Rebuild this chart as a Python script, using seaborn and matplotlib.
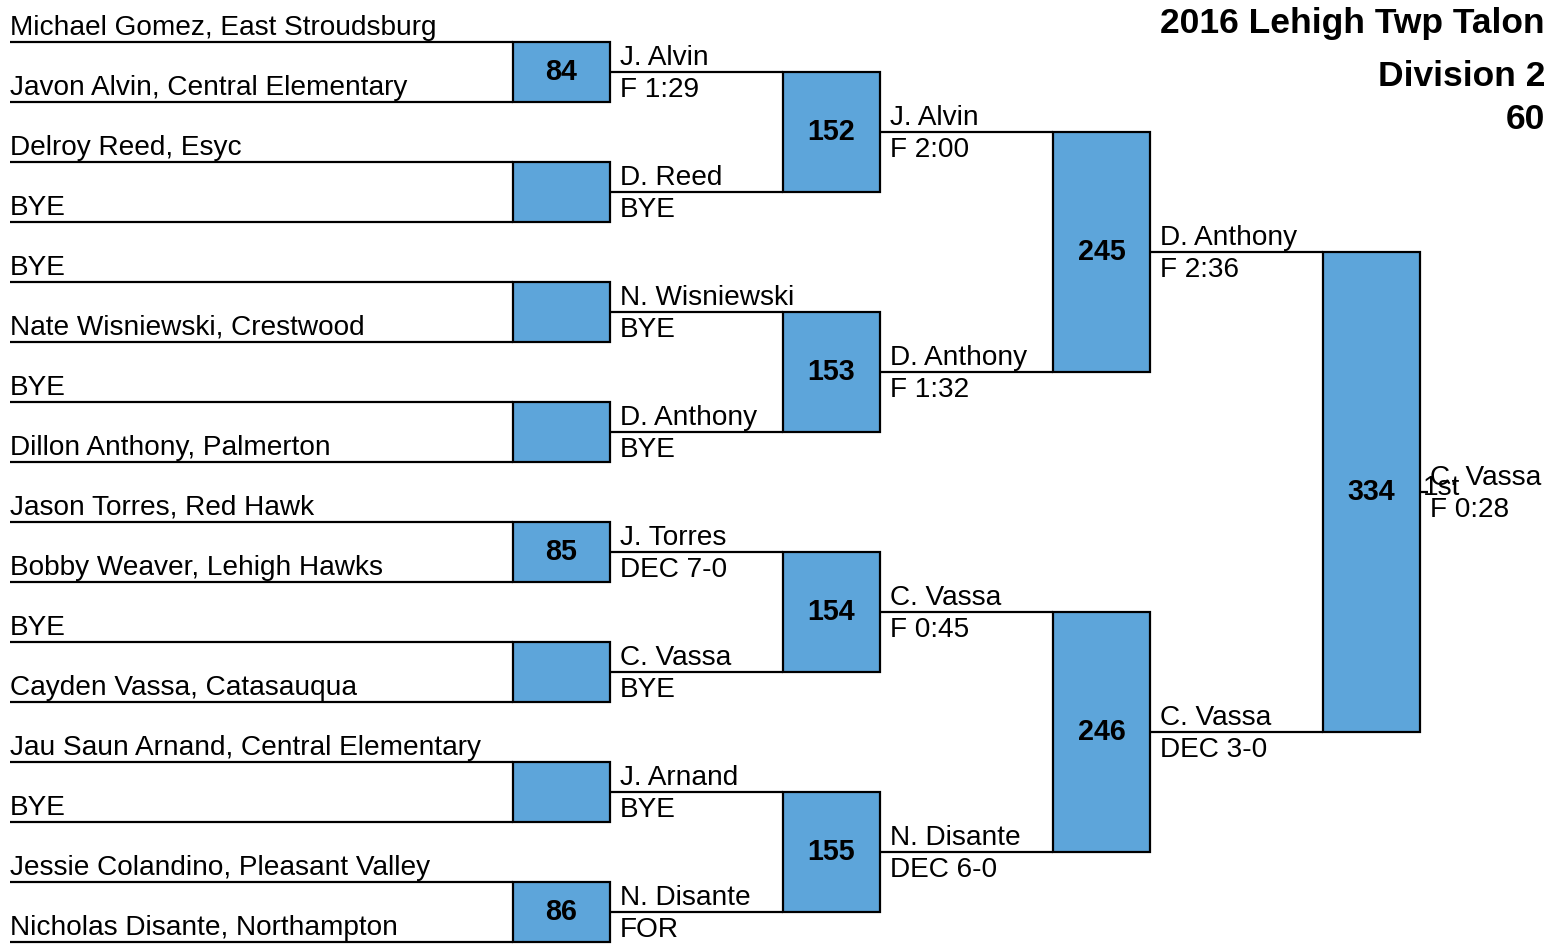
import numpy as np
import matplotlib
matplotlib.use("Agg")
import matplotlib.pyplot as plt
import seaborn as sns

sns.set_theme(style="white")
plt.rcParams['font.family'] = ['Liberation Sans', 'DejaVu Sans']
plt.rcParams['text.color'] = 'black'

# Dados do chaveamento
titulo = ["2016 Lehigh Twp Talon", "Division 2", "60"]

atletas = [
    "Michael Gomez, East Stroudsburg", "Javon Alvin, Central Elementary",
    "Delroy Reed, Esyc", "BYE",
    "BYE", "Nate Wisniewski, Crestwood",
    "BYE", "Dillon Anthony, Palmerton",
    "Jason Torres, Red Hawk", "Bobby Weaver, Lehigh Hawks",
    "BYE", "Cayden Vassa, Catasauqua",
    "Jau Saun Arnand, Central Elementary", "BYE",
    "Jessie Colandino, Pleasant Valley", "Nicholas Disante, Northampton",
]

lutas_r1 = ["84", "", "", "", "85", "", "", "86"]
vencedores_r1 = ["J. Alvin", "D. Reed", "N. Wisniewski", "D. Anthony",
                 "J. Torres", "C. Vassa", "J. Arnand", "N. Disante"]
resultados_r1 = ["F 1:29", "BYE", "BYE", "BYE", "DEC 7-0", "BYE", "BYE", "FOR"]

lutas_r2 = ["152", "153", "154", "155"]
vencedores_r2 = ["J. Alvin", "D. Anthony", "C. Vassa", "N. Disante"]
resultados_r2 = ["F 2:00", "F 1:32", "F 0:45", "DEC 6-0"]

lutas_r3 = ["245", "246"]
vencedores_r3 = ["D. Anthony", "C. Vassa"]
resultados_r3 = ["F 2:36", "DEC 3-0"]

lutas_r4 = ["334"]
vencedores_r4 = ["C. Vassa"]
resultados_r4 = ["F 0:28"]
colocacao = "1st"

rodadas = [
    (lutas_r1, vencedores_r1, resultados_r1),
    (lutas_r2, vencedores_r2, resultados_r2),
    (lutas_r3, vencedores_r3, resultados_r3),
    (lutas_r4, vencedores_r4, resultados_r4),
]

# Layout (em pixels)
azul = "#5DA5DA"
fs = 20.2
lw = 1.6
y0, passo = 42, 60
x_nome, x_caixa, larg_caixa, passo_x = 10, 513, 97, 270

fig = plt.figure(figsize=(15.45, 9.49), dpi=100)
ax = fig.add_axes([0, 0, 1, 1])
ax.set_xlim(0, 1545)
ax.set_ylim(949, 0)
ax.axis("off")

# Linhas dos atletas
y_linhas = y0 + passo * np.arange(len(atletas))
ax.hlines(y_linhas, x_nome, x_caixa, color="black", lw=lw)
for nome, y in zip(atletas, y_linhas):
    ax.text(x_nome, y - 7, nome, fontsize=fs, va="baseline", ha="left")

# Rodadas
for r, (lutas, vencedores, resultados) in enumerate(rodadas):
    xl = x_caixa + passo_x * r
    xr = xl + larg_caixa
    topos = y_linhas[0::2]
    fundos = y_linhas[1::2]
    ax.bar((xl + xr) / 2, fundos - topos, bottom=topos, width=larg_caixa,
           color=azul, edgecolor="black", linewidth=lw, zorder=2)
    meios = (topos + fundos) / 2
    x_fim = xr + passo_x - larg_caixa if r < len(rodadas) - 1 else xr + 8
    ax.hlines(meios, xr, x_fim, color="black", lw=lw, zorder=1)
    for luta, venc, res, y in zip(lutas, vencedores, resultados, meios):
        ax.text((xl + xr) / 2, y, luta, fontsize=fs + 0.5, fontweight="bold",
                ha="center", va="center", zorder=3)
        ax.text(xr + 10, y - 7, venc, fontsize=fs, va="baseline")
        ax.text(xr + 10, y + 25, res, fontsize=fs, va="baseline")
    y_linhas = meios

ax.text(x_caixa + passo_x * 3 + larg_caixa + 3, y_linhas[0] - 4, colocacao,
        fontsize=fs, va="center")

# Título
for t, y in zip(titulo, [33, 86, 129]):
    ax.text(1545, y, t, fontsize=25.5, fontweight="bold", ha="right", va="baseline")

fig.savefig("out.png", dpi=100)
